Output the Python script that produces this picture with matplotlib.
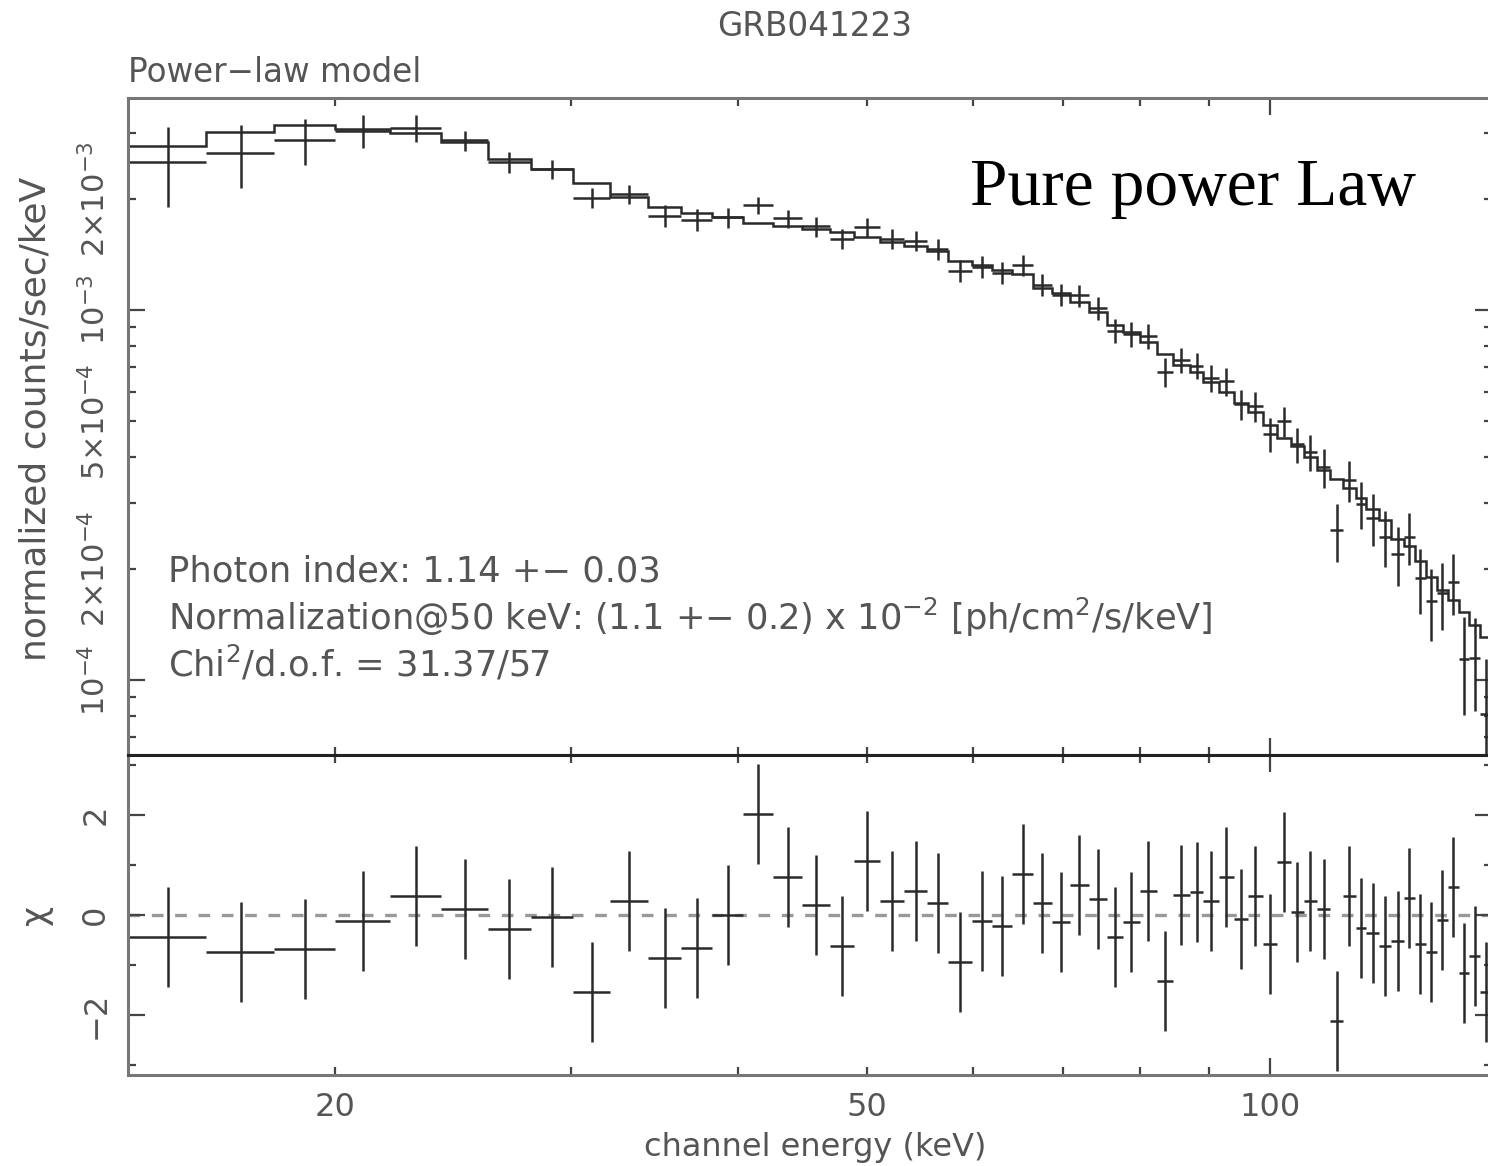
import numpy as np
import matplotlib.pyplot as plt
from matplotlib.ticker import FixedLocator, FuncFormatter

# bin edges (keV)
edges = [14.0, 16.0, 18.0, 20.0, 22.0, 24.0, 26.0, 28.0, 30.1, 32.1,
         34.3, 36.3, 38.3, 40.4, 42.5, 44.7, 46.9, 48.9, 51.1, 53.3,
         55.4, 57.5, 59.9, 62.0, 64.2, 66.5, 68.7, 70.9, 73.2, 75.5,
         77.6, 79.9, 82.3, 84.6, 87.1, 89.2, 91.6, 94.0, 96.3, 98.8,
         101.2, 103.7, 106.0, 108.4, 111.0, 113.5, 115.9, 118.1, 120.6, 123.3,
         125.9, 128.3, 130.8, 133.3, 135.8, 138.4, 141.0, 143.7, 146.5]

# folded model, counts/sec/keV
model = [2.78e-3, 3.03e-3, 3.16e-3, 3.09e-3, 3.01e-3, 2.85e-3, 2.56e-3, 2.41e-3, 2.20e-3, 2.02e-3,
         1.90e-3, 1.83e-3, 1.78e-3, 1.72e-3, 1.69e-3, 1.66e-3, 1.62e-3, 1.57e-3, 1.53e-3, 1.49e-3,
         1.44e-3, 1.36e-3, 1.32e-3, 1.28e-3, 1.25e-3, 1.15e-3, 1.11e-3, 1.05e-3, 0.99e-3, 0.91e-3,
         0.87e-3, 0.82e-3, 0.76e-3, 0.71e-3, 0.68e-3, 0.64e-3, 0.60e-3, 0.56e-3, 0.53e-3, 0.49e-3,
         0.45e-3, 0.43e-3, 0.40e-3, 0.37e-3, 0.35e-3, 0.33e-3, 0.31e-3, 0.29e-3, 0.27e-3, 0.24e-3,
         0.23e-3, 0.21e-3, 0.19e-3, 0.175e-3, 0.165e-3, 0.153e-3, 0.141e-3, 0.131e-3]

# residuals (data-model)/sigma
chi = [-0.44, -0.73, -0.68, -0.12, 0.38, 0.12, -0.28, -0.03, -1.54, 0.28,
       -0.85, -0.65, 0.0, 2.02, 0.76, 0.21, -0.62, 1.09, 0.28, 0.48,
       0.24, -0.93, -0.12, -0.21, 0.82, 0.24, -0.13, 0.61, 0.33, -0.44,
       -0.13, 0.48, -1.31, 0.40, 0.46, 0.28, 0.76, -0.08, 0.38, -0.57,
       1.06, 0.07, 0.28, 0.12, -2.11, 0.38, -0.26, -0.36, -0.62, -0.52,
       0.34, -0.57, -0.73, -0.09, 0.56, -1.16, -0.81, -1.53]

# relative 1-sigma errors of the data
rel_err = [0.22, 0.17, 0.13, 0.10, 0.085, 0.062, 0.064, 0.060, 0.057, 0.059,
           0.065, 0.064, 0.062, 0.057, 0.060, 0.062, 0.060, 0.062, 0.063, 0.064,
           0.065, 0.066, 0.066, 0.068, 0.068, 0.070, 0.070, 0.072, 0.073, 0.075,
           0.076, 0.078, 0.080, 0.082, 0.085, 0.088, 0.090, 0.094, 0.098, 0.10,
           0.105, 0.11, 0.115, 0.12, 0.13, 0.135, 0.14, 0.15, 0.155, 0.165,
           0.17, 0.18, 0.19, 0.20, 0.21, 0.22, 0.23, 0.25]

edges = np.array(edges)
model = np.array(model)
chi = np.array(chi)
sigma = model * np.array(rel_err)
data = model + chi * sigma
lo, hi = edges[:-1], edges[1:]
xc = (lo + hi) / 2
xw = (hi - lo) / 2

W, H = 1488, 1166
fig = plt.figure(figsize=(W / 100, H / 100), dpi=100)


def px_axes(x0, y0, x1, y1):
    return fig.add_axes([x0 / W, 1 - y1 / H, (x1 - x0) / W, (y1 - y0) / H])


ax = px_axes(128, 98, 1492, 755)
axr = px_axes(128, 755, 1492, 1075)

ink = '#2a2a2a'
txt = '#555555'

ax.errorbar(xc, data, xerr=xw, yerr=sigma, fmt='none', ecolor=ink, elinewidth=1.8, capsize=0)
ax.stairs(model, edges, baseline=None, color=ink, lw=1.8)

axr.errorbar(xc, chi, xerr=xw, yerr=1.0, fmt='none', ecolor=ink, elinewidth=1.8, capsize=0)
axr.axhline(0, color='#999999', lw=2.4, ls=(0, (3.5, 3.5)), zorder=0)

for a in (ax, axr):
    a.set_xscale('log')
    a.set_xlim(14.0, 146.6)
    a.xaxis.set_major_locator(FixedLocator([100]))
    a.xaxis.set_minor_locator(FixedLocator([20, 30, 40, 50, 60, 70, 80, 90]))
    a.tick_params(which='both', direction='in', top=True, right=True,
                  color='#444444', width=1.6, labelsize=23, labelcolor=txt)
    a.tick_params(which='major', length=12)
    a.tick_params(which='minor', length=6)
    for s in a.spines.values():
        s.set_color('#777777')
        s.set_linewidth(2.2)

ax.spines['bottom'].set_color('#222222')
axr.spines['top'].set_color('#222222')
ax.xaxis.set_major_formatter(FuncFormatter(lambda v, p: ''))
ax.xaxis.set_minor_formatter(FuncFormatter(lambda v, p: ''))
axr.xaxis.set_major_formatter(FuncFormatter(lambda v, p: '%d' % round(v)))
axr.xaxis.set_minor_formatter(FuncFormatter(lambda v, p: '%d' % round(v) if round(v) in (20, 50) else ''))
axr.tick_params(axis='x', which='both', pad=12)

ax.set_yscale('log')
ax.set_ylim(6.27e-5, 3.74e-3)
ax.yaxis.set_major_locator(FixedLocator([1e-4, 1e-3]))
ax.yaxis.set_minor_locator(FixedLocator([7e-5, 8e-5, 9e-5, 2e-4, 3e-4, 4e-4, 5e-4, 6e-4, 7e-4,
                                         8e-4, 9e-4, 2e-3, 3e-3]))
ylabels = {1e-4: r'$10^{-4}$', 2e-4: r'$2{\times}10^{-4}$', 5e-4: r'$5{\times}10^{-4}$',
           1e-3: r'$10^{-3}$', 2e-3: r'$2{\times}10^{-3}$'}


def yfmt(v, p):
    for k, s in ylabels.items():
        if abs(v - k) / k < 1e-6:
            return s
    return ''


ax.yaxis.set_major_formatter(FuncFormatter(yfmt))
ax.yaxis.set_minor_formatter(FuncFormatter(yfmt))
ax.tick_params(axis='y', which='both', pad=12, labelsize=22)
for lab in ax.get_yticklabels(which='both'):
    lab.set_rotation(90)
    lab.set_va('center')

axr.set_ylim(-3.2, 3.2)
axr.yaxis.set_major_locator(FixedLocator([-2, 0, 2]))
axr.yaxis.set_minor_locator(FixedLocator([-3, -1, 1, 3]))
axr.yaxis.set_major_formatter(FuncFormatter(lambda v, p: '%d' % v if v >= 0 else '\u2212%d' % -v))
axr.tick_params(axis='y', which='both', pad=12)
for lab in axr.get_yticklabels():
    lab.set_rotation(90)
    lab.set_va('center')

fig.text(815 / W, 1 - 26 / H, 'GRB041223', ha='center', va='center', fontsize=23.5, color=txt)
fig.text(128 / W, 1 - 72 / H, 'Power\u2212law model', ha='left', va='center', fontsize=23.5, color=txt)
fig.text(36 / W, 1 - 419 / H, 'normalized counts/sec/keV', rotation=90, ha='center', va='center',
         fontsize=26, color=txt)
fig.text(36 / W, 1 - 915 / H, '\u03c7', rotation=90, ha='center', va='center', fontsize=25, color=txt)
fig.text(815 / W, 1 - 1163 / H, 'channel energy (keV)', ha='center', va='bottom', fontsize=23, color=txt)

notes = ['Photon index: 1.14 +\u2212 0.03',
         'Normalization@50 keV: (1.1 +\u2212 0.2) x 10$^{-2}$ [ph/cm$^2$/s/keV]',
         'Chi$^2$/d.o.f. = 31.37/57']
for s, yy in zip(notes, [571, 617, 664]):
    fig.text(168 / W, 1 - yy / H, s, ha='left', va='center', fontsize=25.4, color=txt)

fig.text(970 / W, 1 - 205 / H, 'Pure power Law', ha='left', va='baseline', fontsize=48.5,
         family='Liberation Serif', color='black')

fig.savefig('out.png', dpi=100)
